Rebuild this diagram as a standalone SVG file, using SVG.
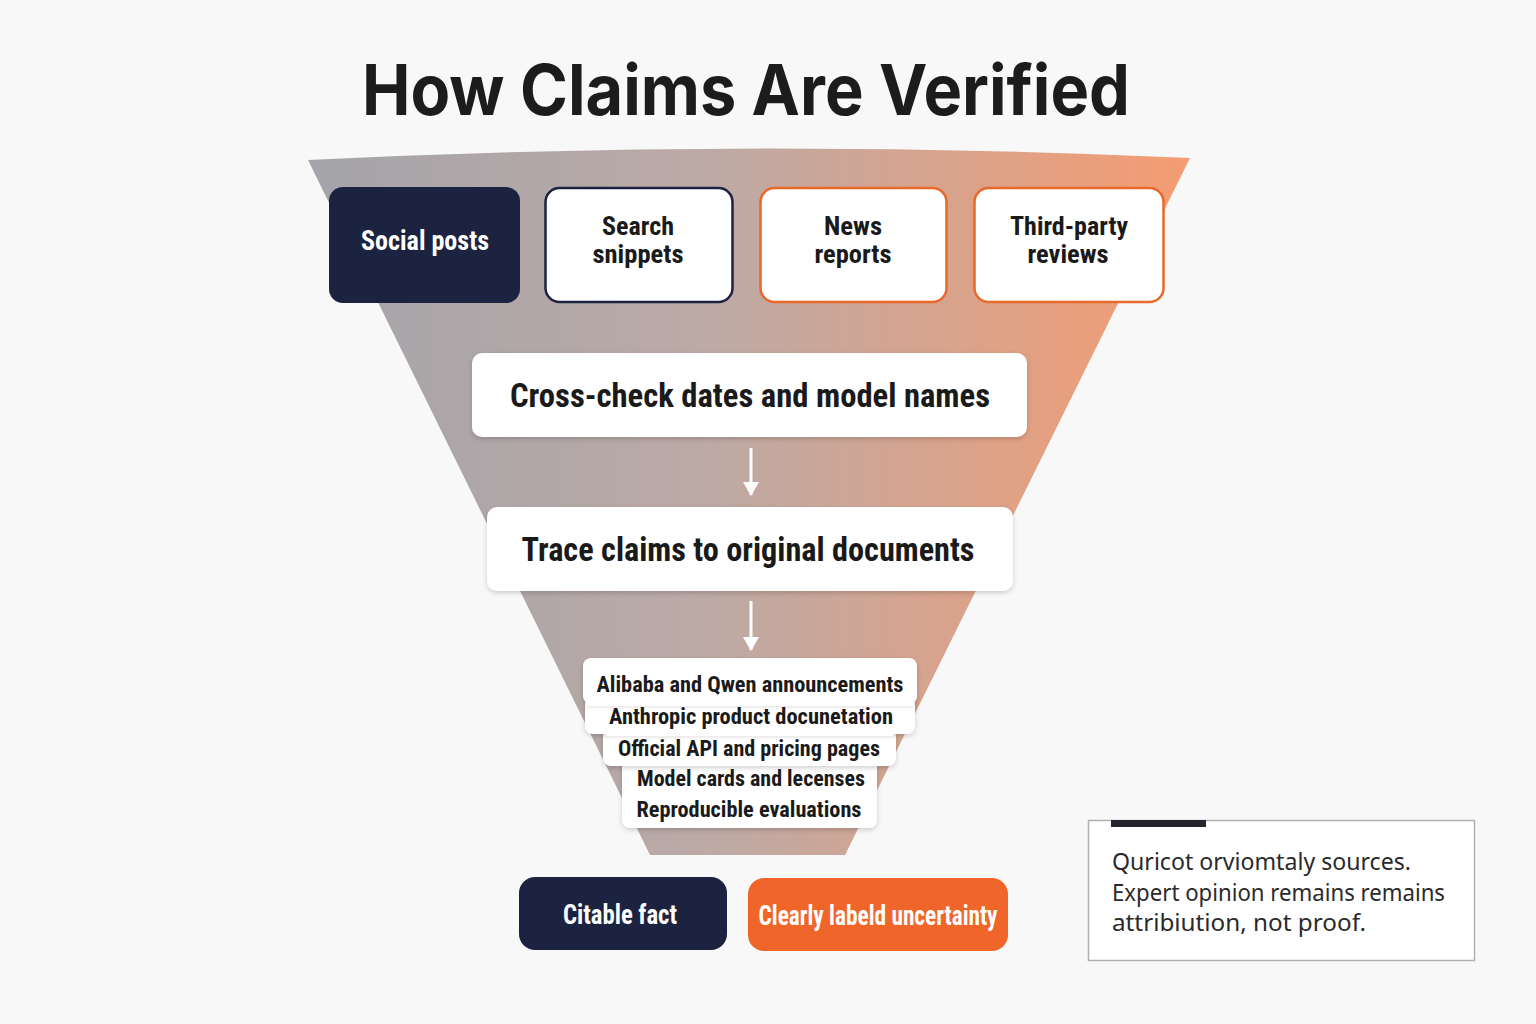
<svg xmlns="http://www.w3.org/2000/svg" width="1536" height="1024" viewBox="0 0 1536 1024">
<defs>
<linearGradient id="fg" x1="308" y1="0" x2="1190" y2="0" gradientUnits="userSpaceOnUse">
<stop offset="0" stop-color="#a4a4aa"/>
<stop offset="0.45" stop-color="#bcaaa6"/>
<stop offset="1" stop-color="#f59c72"/>
</linearGradient>
<filter id="sh" x="-10%" y="-20%" width="120%" height="150%">
<feDropShadow dx="0" dy="2" stdDeviation="2.5" flood-color="#000" flood-opacity="0.18"/>
</filter>
<marker id="ah" viewBox="0 0 14 16" refX="13" refY="8" markerWidth="14" markerHeight="16" markerUnits="userSpaceOnUse" orient="auto">
<path d="M0,0 L14,8 L0,16 Z" fill="#ffffff"/>
</marker>
</defs>
<style>
.t{font-family:"Liberation Sans Narrow","Roboto Condensed","Roboto","Liberation Sans",sans-serif;font-weight:bold;text-anchor:middle;}
.dk{fill:#1a1a1a;}
.wt{fill:#ffffff;}
.wbox{fill:#ffffff;filter:url(#sh);}
.note{font-family:"Noto Sans","Open Sans",sans-serif;font-size:24px;fill:#2a2a2a;}
</style>
<rect width="1536" height="1024" fill="#f8f8f8"/>
<text x="746" y="115" text-anchor="middle" font-family="Inter,'Noto Sans',sans-serif" font-weight="bold" font-size="70" fill="#1c1c1c" textLength="768" lengthAdjust="spacingAndGlyphs">How Claims Are Verified</text>

<path id="funnel" d="M308,160 Q749,138 1190,158 L845,855 L650,855 Z" fill="url(#fg)"/>

<g id="social-posts">
<rect x="329" y="187" width="191" height="116" rx="14" fill="#1c2340"/>
<text class="t wt" x="425" y="250" font-size="27" textLength="128" lengthAdjust="spacingAndGlyphs">Social posts</text>
</g>
<g id="search-snippets">
<rect x="545.5" y="188" width="187" height="114" rx="14" fill="#ffffff" stroke="#1c2340" stroke-width="2.5"/>
<text class="t dk" x="638" y="235" font-size="25" textLength="72" lengthAdjust="spacingAndGlyphs">Search</text>
<text class="t dk" x="638" y="263" font-size="25" textLength="91" lengthAdjust="spacingAndGlyphs">snippets</text>
</g>
<g id="news-reports">
<rect x="760.5" y="188" width="186" height="114" rx="14" fill="#ffffff" stroke="#e8692a" stroke-width="2.5"/>
<text class="t dk" x="853" y="235" font-size="25" textLength="58" lengthAdjust="spacingAndGlyphs">News</text>
<text class="t dk" x="853" y="263" font-size="25" textLength="77" lengthAdjust="spacingAndGlyphs">reports</text>
</g>
<g id="third-party-reviews">
<rect x="974.5" y="188" width="189" height="114" rx="14" fill="#ffffff" stroke="#e8692a" stroke-width="2.5"/>
<text class="t dk" x="1069" y="235" font-size="25" textLength="118" lengthAdjust="spacingAndGlyphs">Third-party</text>
<text class="t dk" x="1068" y="263" font-size="25" textLength="81" lengthAdjust="spacingAndGlyphs">reviews</text>
</g>

<g id="cross-check">
<rect class="wbox" x="472" y="353" width="555" height="84" rx="10"/>
<text class="t dk" x="750" y="407" font-size="33" textLength="480" lengthAdjust="spacingAndGlyphs">Cross-check dates and model names</text>
</g>
<g id="trace-claims">
<rect class="wbox" x="487" y="507" width="526" height="84" rx="10"/>
<text class="t dk" x="748" y="561" font-size="33" textLength="453" lengthAdjust="spacingAndGlyphs">Trace claims to original documents</text>
</g>

<g id="sources">
<rect class="wbox" x="622" y="757" width="255" height="71" rx="8"/>
<rect class="wbox" x="603" y="728" width="293" height="38" rx="8"/>
<rect class="wbox" x="585" y="696" width="330" height="38" rx="8"/>
<rect class="wbox" x="583" y="658" width="334" height="46" rx="8"/>
<rect x="586" y="700" width="328" height="6" fill="#ffffff"/>
<rect x="606" y="730" width="287" height="6" fill="#ffffff"/>
<rect x="625" y="760" width="249" height="6" fill="#ffffff"/>
<text class="t dk" x="750" y="692" font-size="22" textLength="307" lengthAdjust="spacingAndGlyphs">Alibaba and Qwen announcements</text>
<text class="t dk" x="751" y="724" font-size="22" textLength="284" lengthAdjust="spacingAndGlyphs">Anthropic product docunetation</text>
<text class="t dk" x="749" y="756" font-size="22" textLength="262" lengthAdjust="spacingAndGlyphs">Official API and pricing pages</text>
<text class="t dk" x="751" y="786" font-size="22" textLength="228" lengthAdjust="spacingAndGlyphs">Model cards and lecenses</text>
<text class="t dk" x="749" y="817" font-size="22" textLength="225" lengthAdjust="spacingAndGlyphs">Reproducible evaluations</text>
</g>

<g id="citable-fact">
<rect x="519" y="877" width="208" height="73" rx="16" fill="#1c2340"/>
<text class="t wt" x="620" y="924" font-size="27" textLength="114" lengthAdjust="spacingAndGlyphs">Citable fact</text>
</g>
<g id="uncertainty">
<rect x="748" y="878" width="260" height="73" rx="16" fill="#f0662a"/>
<text class="t wt" x="878" y="925" font-size="27" textLength="239" lengthAdjust="spacingAndGlyphs">Clearly labeld uncertainty</text>
</g>

<g id="note">
<rect x="1088.5" y="820.5" width="386" height="140" fill="#ffffff" stroke="#b0b0b0" stroke-width="1.5"/>
<rect x="1111" y="820" width="95" height="7" fill="#252530"/>
<text class="note" x="1112" y="870" textLength="299" lengthAdjust="spacingAndGlyphs">Quricot orviomtaly sources.</text>
<text class="note" x="1112" y="901" textLength="333" lengthAdjust="spacingAndGlyphs">Expert opinion remains remains</text>
<text class="note" x="1112" y="931" textLength="254" lengthAdjust="spacingAndGlyphs">attribiution, not proof.</text>
</g>

<g id="connectors" stroke="#ffffff" stroke-width="3" fill="none">
<line x1="751" y1="448" x2="751" y2="495" marker-end="url(#ah)"/>
<line x1="751" y1="601" x2="751" y2="650" marker-end="url(#ah)"/>
</g>
</svg>
